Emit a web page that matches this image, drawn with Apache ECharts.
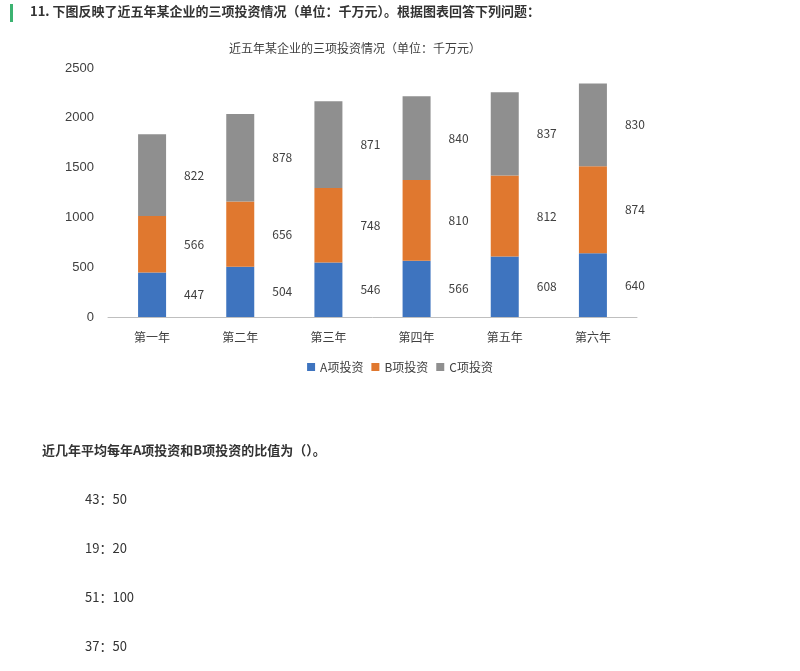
<!DOCTYPE html>
<html><head><meta charset="utf-8">
<script src="https://cdn.jsdelivr.net/npm/echarts@6/dist/echarts.min.js"></script>
<style>html,body{margin:0;padding:0;background:#fff}#c{width:800px;height:671px}</style>
</head><body><div id="c"></div>
<script>
const categories = ['第一年','第二年','第三年','第四年','第五年','第六年'];
const seriesA = [447,504,546,566,608,640];
const seriesB = [566,656,748,810,812,874];
const seriesC = [822,878,871,840,837,830];
const seriesNames = ['A项投资','B项投资','C项投资'];
const options = ['43：50','19：20','51：100','37：50'];
const font = '"Noto Sans CJK SC", sans-serif';
const chart = echarts.init(document.getElementById('c'));
const mk = (name, data, color) => ({
  name, type:'bar', stack:'t', data, barWidth:28,
  itemStyle:{color},
  label:{show:true, position:'right', distance:18, color:'#404040', fontSize:12, fontFamily:font}
});
const g = [
  {type:'rect', shape:{x:10,y:4,width:3,height:18}, style:{fill:'#3cb371'}},
  {type:'text', left:30, top:5, style:{text:'11. 下图反映了近五年某企业的三项投资情况（单位：千万元）。根据图表回答下列问题：', font:'bold 13px '+font, fill:'#333'}},
  {type:'text', left:42, top:444, style:{text:'近几年平均每年A项投资和B项投资的比值为（）。', font:'bold 13px '+font, fill:'#333'}}
];
options.forEach((t,i)=>g.push({type:'text', left:85, top:493+i*49, style:{text:t, font:'13px '+font, fill:'#333'}}));
chart.setOption({
  animation:false,
  title:{text:'近五年某企业的三项投资情况（单位：千万元）', left:350, textAlign:'center', top:37, textStyle:{fontSize:12, fontWeight:'normal', color:'#404040', fontFamily:font}},
  legend:{top:356, left:'center', itemWidth:8, itemHeight:8, icon:'rect', textStyle:{fontSize:12, color:'#404040', fontFamily:font}},
  grid:{left:108, right:163, top:68, bottom:354},
  xAxis:{type:'category', data:categories, axisTick:{show:false}, axisLine:{lineStyle:{color:'#bfbfbf'}}, axisLabel:{color:'#404040', fontSize:12, margin:14, fontFamily:font}},
  yAxis:{type:'value', min:0, max:2500, interval:500, splitLine:{show:false}, axisLabel:{color:'#404040', fontSize:13, margin:14, formatter:v=>String(v)}},
  series:[mk(seriesNames[0],seriesA,'#3e74bf'), mk(seriesNames[1],seriesB,'#e0782f'), mk(seriesNames[2],seriesC,'#8f8f8f')],
  graphic:g
});
</script></body></html>
